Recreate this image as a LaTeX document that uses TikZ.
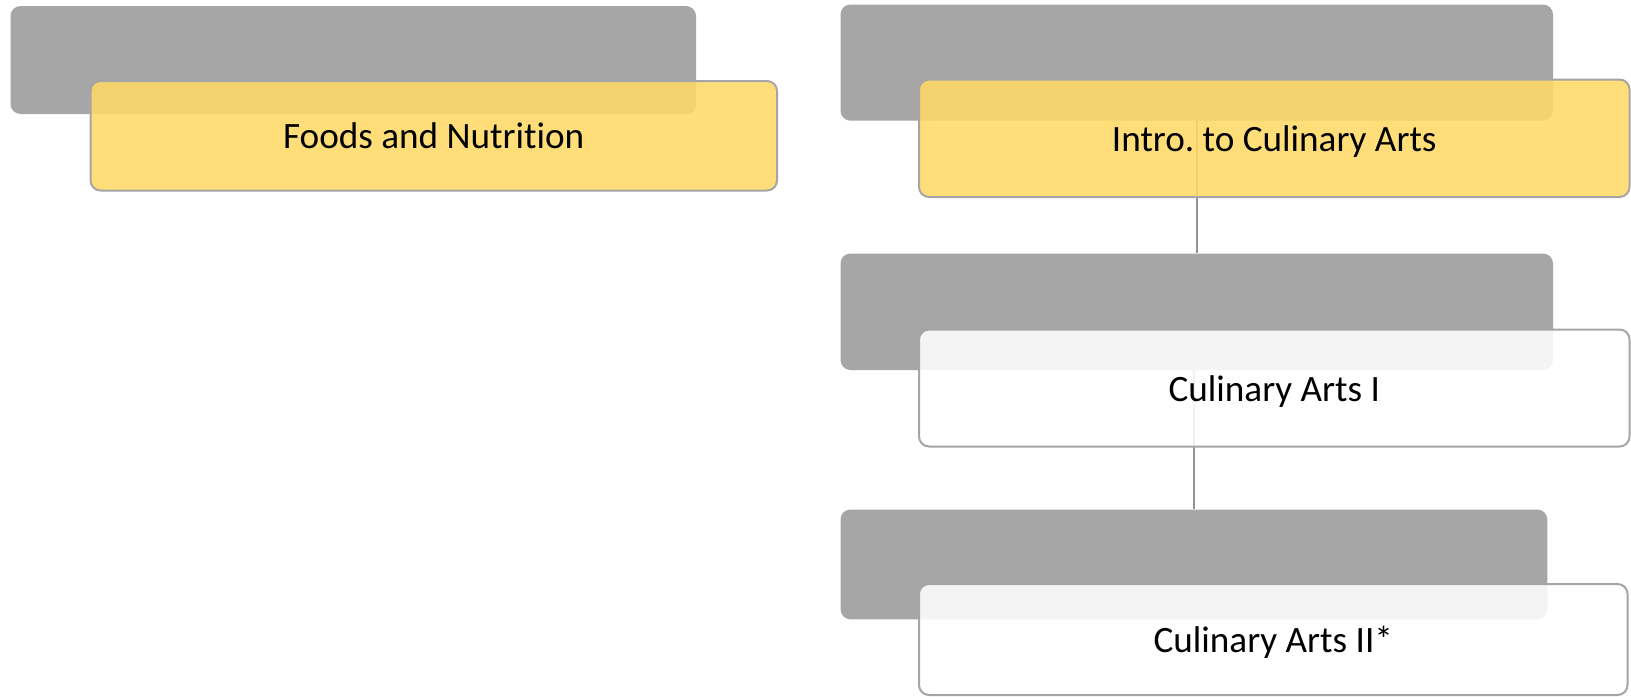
\documentclass[tikz,border=0pt]{standalone}
\usepackage{fontspec}
\setmainfont{Carlito}[Ligatures=NoCommon]
\definecolor{boxgray}{HTML}{A6A6A6}
\definecolor{boxgold}{HTML}{FFD966}
\definecolor{edgegray}{HTML}{A5A5A5}
\definecolor{linkgray}{HTML}{939393}
\tikzset{
  backbox/.style={rectangle, rounded corners=5pt, fill=boxgray, draw=none, inner sep=0pt},
  textbox/.style={rectangle, rounded corners=5pt, draw=edgegray, line width=1pt,
    fill opacity=0.88, text opacity=1, inner sep=0pt, text height=13pt, text depth=0pt,
    font=\fontsize{18.6pt}{22pt}\selectfont},
  goldbox/.style={textbox, fill=boxgold},
  whitebox/.style={textbox, fill=white},
  link/.style={draw=linkgray, line width=1pt}
}
\begin{document}
\begin{tikzpicture}[x=0.5pt,y=-0.5pt]
\useasboundingbox (0,0) rectangle (1631,696);
% background (gray) boxes
\node[backbox, minimum width=342.75pt, minimum height=54pt] (g1) at (353.25,60) {};
\node[backbox, minimum width=356.25pt, minimum height=58.1pt] (g2) at (1196.75,62.6) {};
\node[backbox, minimum width=356.25pt, minimum height=58.25pt] (g3) at (1196.75,311.75) {};
\node[backbox, minimum width=353.4pt, minimum height=54.9pt] (g5) at (1193.9,564.4) {};
% connectors
\draw[link] (g3.north |- g2.south) -- (g3.north);
\draw[link] (g5.north |- g3.south) -- (g5.north);
% text boxes
\node[goldbox, minimum width=343.25pt, minimum height=54.75pt] (t1) at (433.75,135.75) {Foods and Nutrition};
\node[goldbox, minimum width=355.25pt, minimum height=58.75pt] (t2) at (1274.25,138.25) {Intro.\ to Culinary Arts};
\node[whitebox, minimum width=355.25pt, minimum height=58.5pt] (t3) at (1274.25,388) {Culinary Arts I};
\node[whitebox, minimum width=354.25pt, minimum height=55.5pt] (t5) at (1273.25,639.5) {Culinary Arts II*};
\end{tikzpicture}
\end{document}
